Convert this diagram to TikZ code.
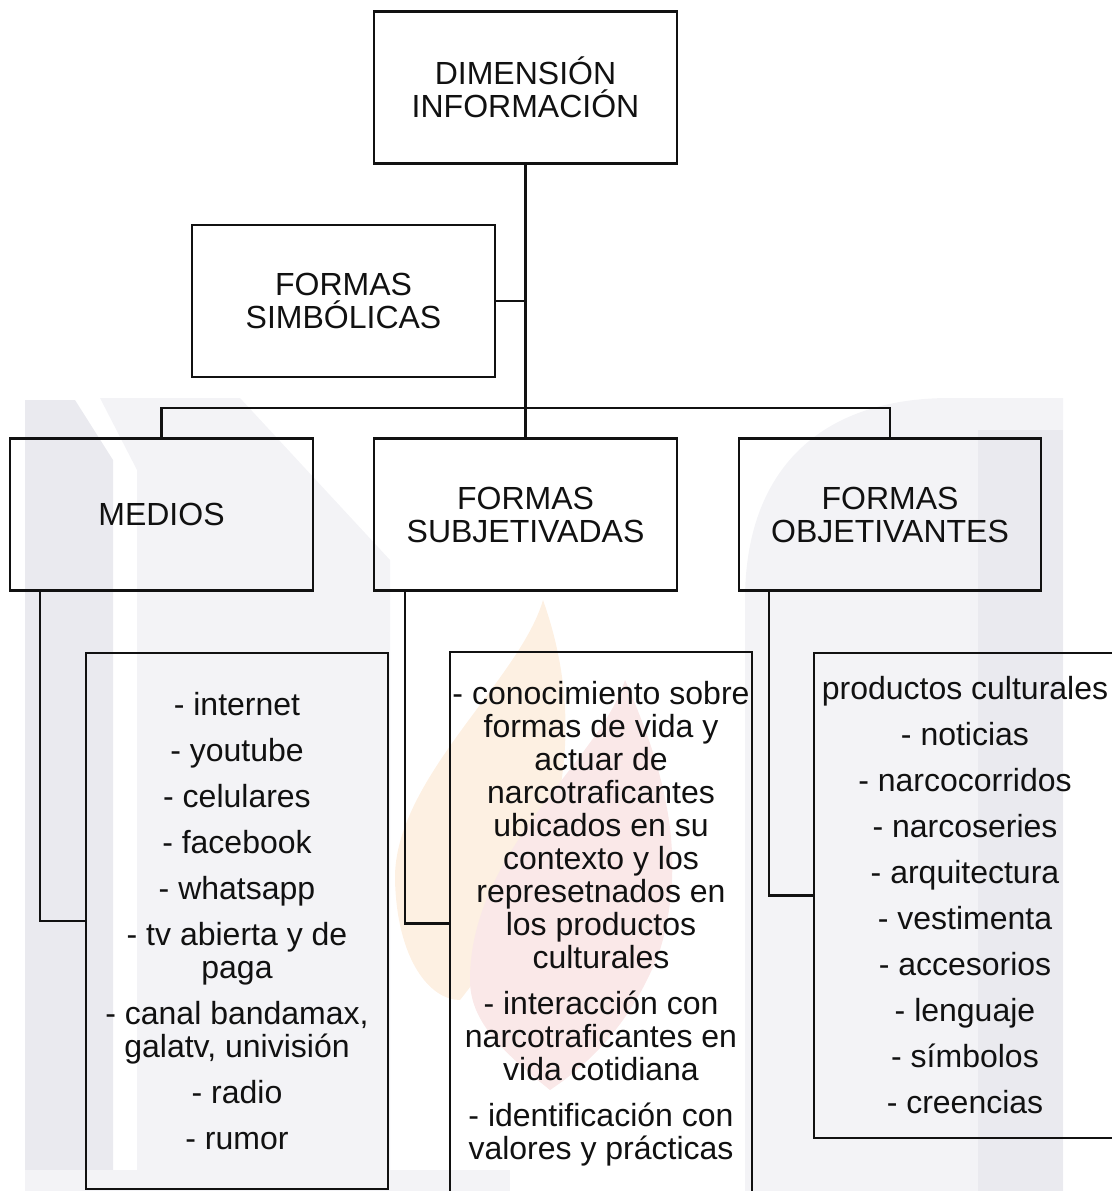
\documentclass[tikz,border=0pt]{standalone}
\usepackage{fontspec}
\setmainfont{Liberation Sans}
\usetikzlibrary{calc}
\definecolor{wmlight}{HTML}{F3F3F6}
\definecolor{wmdark}{HTML}{EAEAEF}
\definecolor{wmorange}{HTML}{FDF0E2}
\definecolor{wmpink}{HTML}{FAE8E8}
\definecolor{ink}{HTML}{111111}

\begin{document}
\begin{tikzpicture}[x=1pt,y=-1pt,
  box/.style={draw=ink, line width=2.1pt, inner sep=0pt, align=center,
              font=\fontsize{32}{33}\selectfont, text=ink},
  head/.style={box, minimum width=303pt, minimum height=152pt},
  link/.style={draw=ink, line width=2.1pt},
]
\useasboundingbox (0,0) rectangle (1111,1191);

% faint background emblem
\fill[wmdark] (25,400) -- (75,400) -- (113,460) -- (113,1191) -- (25,1191) -- cycle;
\fill[wmlight] (100,398) -- (240,398) -- (390,560) -- (390,1170) -- (137,1170) -- (137,470) -- cycle;
\fill[wmlight] (25,1170) rectangle (510,1191);
\fill[wmlight] (745,1191) -- (745,600) .. controls (745,470) and (820,398) .. (950,398)
  -- (1063,398) -- (1063,1191) -- cycle;
\fill[wmdark] (978,430) rectangle (1063,1191);
\fill[wmorange] (543,600) .. controls (520,680) and (393,780) .. (395,880)
  .. controls (397,960) and (430,1000) .. (460,1000)
  .. controls (540,900) and (600,760) .. (543,600);
\fill[wmpink] (625,680) .. controls (660,760) and (690,850) .. (660,950)
  .. controls (630,1030) and (580,1070) .. (550,1090)
  .. controls (500,1050) and (470,1020) .. (470,980)
  .. controls (470,850) and (600,760) .. (625,680);

% headings
\node[head] (dim) at (525.5,87.5) {DIMENSIÓN\\INFORMACIÓN};
\node[head] (sim) at (343.5,301) {FORMAS\\SIMBÓLICAS};
\node[head] (medios) at (161.5,514.5) {MEDIOS};
\node[head] (subj) at (525.5,514.5) {FORMAS\\SUBJETIVADAS};
\node[head, minimum width=302pt] (obj) at (890,514.5) {FORMAS\\OBJETIVANTES};

% lists
\node[box, minimum width=302pt, minimum height=536pt] (list1) at (237,921)
  {- internet\\[13pt]- youtube\\[13pt]- celulares\\[13pt]- facebook\\[13pt]- whatsapp\\[13pt]%
   - tv abierta y de\\paga\\[13pt]- canal bandamax,\\galatv, univisión\\[13pt]- radio\\[13pt]- rumor};
\node[box, draw=none, minimum width=300pt, minimum height=541pt] (list2) at (601,923.5)
  {- conocimiento sobre\\formas de vida y\\actuar de\\narcotraficantes\\ubicados en su\\contexto y los\\%
   represetnados en\\los productos\\culturales\\[13pt]- interacción con\\narcotraficantes en\\%
   vida cotidiana\\[13pt]- identificación con\\valores y prácticas};
\draw[ink, line width=2.1pt] (list2.north west) rectangle ($(list2.south east)+(0,20)$);
\node[box, minimum width=302pt, minimum height=485pt] (list3) at (965,895.5)
  {productos culturales\\[13pt]- noticias\\[13pt]- narcocorridos\\[13pt]- narcoseries\\[13pt]%
   - arquitectura\\[13pt]- vestimenta\\[13pt]- accesorios\\[13pt]- lenguaje\\[13pt]%
   - símbolos\\[13pt]- creencias};

% connectors
\coordinate (bus) at (525.5,408);
\draw[link] (dim.south) -- (subj.north);
\draw[link] (medios.north) |- (bus) -| (obj.north);
\draw[link] (sim.east) -- (sim.east -| dim.south);
\draw[link] ([xshift=31pt]medios.south west) |- (list1.west);
\draw[link] ([xshift=32pt]subj.south west) |- (list2.west);
\draw[link] ([xshift=31pt]obj.south west) |- (list3.west);
\end{tikzpicture}
\end{document}
